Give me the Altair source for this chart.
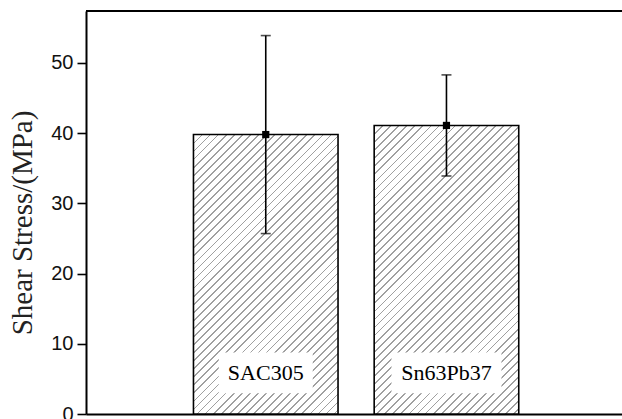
import math
import altair as alt
import pandas as pd

# ---- data ----
materials = ["SAC305", "Sn63Pb37"]
means = [39.8, 41.1]
errors = [14.1, 7.2]
y_ticks = [0, 5, 10, 15, 20, 25, 30, 35, 40, 45, 50, 55]
y_max = 57.4
label_y = 5.85

df = pd.DataFrame({"material": materials, "mean": means, "err": errors})
df["lo"] = df["mean"] - df["err"]
df["hi"] = df["mean"] + df["err"]
df["ly"] = label_y

# ---- layout / style ----
W, H = 536, 403
P_IN, P_OUT = 0.2, 0.583
step = W / (len(materials) - P_IN + 2 * P_OUT)
bw = step * (1 - P_IN)
px_per_unit = H / y_max

SERIF = "Liberation Serif"
SANS = "Liberation Sans"

xscale = alt.Scale(domain=materials, paddingInner=P_IN, paddingOuter=P_OUT, align=0.51)
yscale = alt.Scale(domain=[0, y_max], nice=False, zero=True)


def hatch(w, h, spacing=5.7, lw=1.25, color="#a0a0a0"):
    th = math.radians(45)
    gx, gy = math.sin(th) / h, math.cos(th) / w
    k = (gx + gy) / (gx * gx + gy * gy)
    L = w * math.sin(th) + h * math.cos(th)
    stops = []
    n = int(L / spacing) + 2
    for i in range(n):
        t0 = i * spacing / L
        t1 = (i * spacing + lw) / L
        t2 = (i + 1) * spacing / L
        if t0 > 1:
            break
        stops += [
            {"offset": min(t0, 1), "color": color},
            {"offset": min(t1, 1), "color": color},
            {"offset": min(t1, 1), "color": "white"},
            {"offset": min(t2, 1), "color": "white"},
        ]
    return {"gradient": "linear", "x1": 0, "y1": 0, "x2": k * gx, "y2": k * gy,
            "stops": stops}


base = alt.Chart(df)

x_enc = alt.X("material:N", scale=xscale, sort=materials,
              axis=alt.Axis(labels=False, ticks=False, title=None, domain=True,
                            domainColor="black", domainWidth=2))
y_axis = alt.Axis(
    values=y_ticks,
    labelExpr="datum.value % 10 === 0 ? datum.label : ''",
    tickSize={"condition": {"test": "datum.value % 10 === 0", "value": 9}, "value": 5},
    tickWidth=1.6, tickColor="black",
    domainColor="black", domainWidth=2,
    labelFont=SANS, labelFontSize=20, labelColor="#111", labelPadding=4,
    grid=False,
    title="Shear Stress/(MPa)", titleFont=SERIF, titleFontSize=29,
    titleFontWeight="normal", titleColor="#222",
    titleAngle=270, titleAlign="center", titleBaseline="middle",
    titleX=-64, titleY=H / 2 + 10,
)

layers = []
for i, m in enumerate(materials):
    h = means[i] * px_per_unit
    layers.append(
        base.transform_filter(alt.datum.material == m).mark_bar(
            fill=hatch(bw, h), stroke="black", strokeWidth=1.6
        ).encode(x=x_enc, y=alt.Y("mean:Q", scale=yscale, axis=y_axis))
    )

box_w = {"SAC305": 94, "Sn63Pb37": 110}
for m in materials:
    layers.append(
        base.transform_filter(alt.datum.material == m).mark_bar(
            width=box_w[m], fill="white", stroke=None
        ).encode(x=alt.X("material:N", scale=xscale, sort=materials),
                 y=alt.Y("bl:Q", scale=yscale), y2="bt:Q")
        .transform_calculate(bl="datum.ly - 2.9", bt="datum.ly + 2.9")
    )

rule = base.mark_rule(color="black", strokeWidth=1.6).encode(
    x=alt.X("material:N", scale=xscale, sort=materials),
    y=alt.Y("lo:Q", scale=yscale), y2="hi:Q")
cap_hi = base.mark_tick(color="black", thickness=1.6, size=10, orient="horizontal").encode(
    x=alt.X("material:N", scale=xscale, sort=materials), y=alt.Y("hi:Q", scale=yscale))
cap_lo = base.mark_tick(color="black", thickness=1.6, size=10, orient="horizontal").encode(
    x=alt.X("material:N", scale=xscale, sort=materials), y=alt.Y("lo:Q", scale=yscale))
marker = base.mark_square(color="black", size=52, opacity=1).encode(
    x=alt.X("material:N", scale=xscale, sort=materials), y=alt.Y("mean:Q", scale=yscale))
text = base.mark_text(font=SERIF, fontSize=22, color="black", baseline="middle",
                      align="center").encode(
    x=alt.X("material:N", scale=xscale, sort=materials),
    y=alt.Y("ly:Q", scale=yscale), text="material:N")
top = base.mark_rule(color="black", strokeWidth=2).encode(
    x=alt.value(0), x2=alt.value(W), y=alt.value(0))

chart = alt.layer(*layers, rule, cap_hi, cap_lo, marker, text, top).properties(
    width=W, height=H,
    autosize=alt.AutoSizeParams(type="none"),
    padding={"left": 86, "top": 11, "right": 0, "bottom": 5},
    background="white",
).configure_view(stroke=None)

chart.save("out.html", embed_options={"renderer": "svg", "actions": False})
